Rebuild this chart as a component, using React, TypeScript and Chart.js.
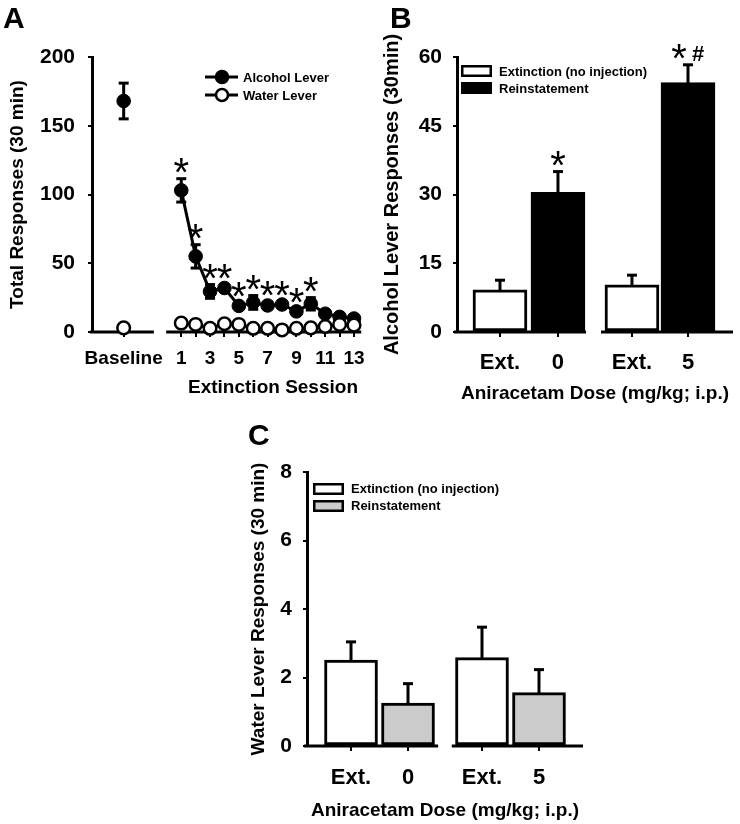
import React, { useEffect, useRef } from "react";
import { Chart, registerables } from "chart.js";
Chart.register(...registerables);

const FONT = "'Liberation Sans', Arial, Helvetica, sans-serif";
Chart.defaults.color = "#000";
Chart.defaults.font.family = FONT;

// ---------------- Panel A data ----------------
const A_SESSIONS = [1, 2, 3, 4, 5, 6, 7, 8, 9, 10, 11, 12, 13];
const A_ALCOHOL_BASELINE = 168;
const A_ALCOHOL_BASELINE_SEM = 13;
const A_ALCOHOL = [103, 55, 29.5, 32, 19, 21.5, 19.3, 20, 15, 20.5, 13.3, 11, 9.8];
const A_ALCOHOL_SEM = [8.5, 8.5, 5, 2, 2, 5, 2.5, 2, 2, 4.5, 2, 1.5, 1.5];
const A_WATER_BASELINE = 3;
const A_WATER = [6.5, 5.5, 2.7, 6, 5.5, 2.7, 2.7, 1.5, 2.7, 3, 4, 5.5, 5];
const A_SIGNIFICANT = [1, 1, 1, 1, 1, 1, 1, 1, 1, 1, 0, 0, 0];
const A_BASELINE_LABEL = "Baseline";

// ---------------- Panel B data ----------------
const DOSE_LABELS = ["0", "5"];
const EXT_LABEL = "Ext.";
const B_EXT = [9.2, 10.3];
const B_EXT_SEM = [2.1, 2.1];
const B_REIN = [30.5, 54.4];
const B_REIN_SEM = [4.5, 3.9];
const B_REIN_MARKS = ["*", "*#"];

// ---------------- Panel C data ----------------
const C_EXT = [2.51, 2.58];
const C_EXT_SEM = [0.53, 0.89];
const C_REIN = [1.25, 1.56];
const C_REIN_SEM = [0.57, 0.67];

// ---------------- layout (positions on the x axis, not data) ----------------
const A_BASELINE_POS = -3;
const B_POS_EXT = [0.741, 3.017];
const B_POS_REIN = [1.741, 3.983];
const C_POS_EXT = [0.772, 3.07];
const C_POS_REIN = [1.772, 4.07];

function drawErr(ctx: CanvasRenderingContext2D, x: number, y1: number, y2: number, capW: number) {
  ctx.beginPath();
  ctx.moveTo(x, y1);
  ctx.lineTo(x, y2);
  ctx.stroke();
  ctx.beginPath();
  ctx.moveTo(x - capW / 2, y2);
  ctx.lineTo(x + capW / 2, y2);
  ctx.stroke();
}

function drawStar(ctx: CanvasRenderingContext2D, x: number, cy: number) {
  ctx.font = `normal 40px ${FONT}`;
  ctx.textAlign = "center";
  ctx.textBaseline = "alphabetic";
  ctx.fillText("*", x, cy + 19);
}

function makeA(): any {
  const alcohol = [{ x: A_BASELINE_POS, y: A_ALCOHOL_BASELINE }, ...A_SESSIONS.map((s, i) => ({ x: s, y: A_ALCOHOL[i] }))];
  const water = [{ x: A_BASELINE_POS, y: A_WATER_BASELINE }, ...A_SESSIONS.map((s, i) => ({ x: s, y: A_WATER[i] }))];
  const hideFirst = { borderColor: (c: any) => (c.p0DataIndex === 0 ? "rgba(0,0,0,0)" : "#000") };
  const plugin = {
    id: "panelA",
    beforeDatasetsDraw(chart: any) {
      const { ctx, scales: { x, y }, chartArea } = chart;
      ctx.save();
      ctx.strokeStyle = "#000";
      ctx.lineWidth = 3;
      const y0 = y.getPixelForValue(0);
      ctx.beginPath();
      ctx.moveTo(chartArea.left - 2, y0);
      ctx.lineTo(x.getPixelForValue(-0.9), y0);
      ctx.moveTo(x.getPixelForValue(-0.05), y0);
      ctx.lineTo(chartArea.right, y0);
      ctx.stroke();
      const pts = [{ p: A_BASELINE_POS, m: A_ALCOHOL_BASELINE, e: A_ALCOHOL_BASELINE_SEM }, ...A_SESSIONS.map((s, i) => ({ p: s, m: A_ALCOHOL[i], e: A_ALCOHOL_SEM[i] }))];
      pts.forEach((d) => {
        const px = x.getPixelForValue(d.p);
        drawErr(ctx, px, y.getPixelForValue(d.m), y.getPixelForValue(d.m + d.e), 10);
        drawErr(ctx, px, y.getPixelForValue(d.m), y.getPixelForValue(d.m - d.e), 10);
      });
      ctx.restore();
    },
    afterDraw(chart: any) {
      const { ctx, scales: { x, y } } = chart;
      ctx.save();
      ctx.fillStyle = "#000";
      A_SESSIONS.forEach((s, i) => {
        if (!A_SIGNIFICANT[i]) return;
        drawStar(ctx, x.getPixelForValue(s), y.getPixelForValue(A_ALCOHOL[i] + A_ALCOHOL_SEM[i]) - 12);
      });
      const rows = [
        { label: "Alcohol Lever", y: 77, fill: "#000" },
        { label: "Water Lever", y: 95, fill: "#fff" },
      ];
      rows.forEach((r) => {
        ctx.strokeStyle = "#000";
        ctx.lineWidth = 3;
        ctx.beginPath();
        ctx.moveTo(205, r.y);
        ctx.lineTo(238, r.y);
        ctx.stroke();
        ctx.beginPath();
        ctx.arc(222, r.y, 6, 0, Math.PI * 2);
        ctx.fillStyle = r.fill;
        ctx.fill();
        ctx.lineWidth = 2.5;
        ctx.stroke();
        ctx.fillStyle = "#000";
        ctx.font = `bold 13px ${FONT}`;
        ctx.textAlign = "left";
        ctx.textBaseline = "middle";
        ctx.fillText(r.label, 243, r.y + 1);
      });
      ctx.font = `bold 19px ${FONT}`;
      ctx.textAlign = "center";
      ctx.textBaseline = "middle";
      ctx.fillText("Extinction Session", 273, 388);
      ctx.font = `bold 30px ${FONT}`;
      ctx.textAlign = "left";
      ctx.textBaseline = "alphabetic";
      ctx.fillText("A", 3, 28);
      ctx.restore();
    },
  };
  return {
    type: "line",
    data: {
      datasets: [
        {
          label: "Water Lever",
          data: water,
          order: 0,
          borderColor: "#000",
          borderWidth: 3,
          pointRadius: 6.3,
          pointBorderWidth: 2.5,
          pointBackgroundColor: "#fff",
          pointBorderColor: "#000",
          segment: hideFirst,
          clip: false,
        },
        {
          label: "Alcohol Lever",
          data: alcohol,
          order: 1,
          borderColor: "#000",
          borderWidth: 3,
          pointRadius: 6.8,
          pointBorderWidth: 1,
          pointBackgroundColor: "#000",
          pointBorderColor: "#000",
          segment: hideFirst,
          clip: false,
        },
      ],
    },
    options: {
      animation: false,
      responsive: false,
      devicePixelRatio: 1,
      layout: { padding: { top: 57, right: 3, bottom: 0, left: 0 } },
      plugins: { legend: { display: false }, tooltip: { enabled: false } },
      scales: {
        x: {
          type: "linear",
          min: -5.2,
          max: 13.5,
          afterBuildTicks: (s: any) => {
            s.ticks = [A_BASELINE_POS, ...A_SESSIONS].map((v) => ({ value: v }));
          },
          afterFit: (s: any) => {
            s.height = 78;
            s.paddingLeft = 0;
            s.paddingRight = 0;
          },
          ticks: {
            autoSkip: false,
            maxRotation: 0,
            padding: 10,
            font: { size: 19, weight: "bold" },
            color: "#000",
            callback: (v: number) => (v === A_BASELINE_POS ? A_BASELINE_LABEL : v % 2 === 1 ? String(v) : ""),
          },
          grid: { display: true, drawOnChartArea: false, drawTicks: true, tickLength: 5, color: "#000", lineWidth: 2 },
          border: { display: false },
        },
        y: {
          min: 0,
          max: 200,
          ticks: { stepSize: 50, padding: 13, font: { size: 21, weight: "bold" }, color: "#000" },
          afterFit: (s: any) => {
            s.width = 92;
            s.paddingTop = 0;
            s.paddingBottom = 0;
          },
          grid: { display: true, drawOnChartArea: false, drawTicks: true, tickLength: 4, color: "#000", lineWidth: 2 },
          border: { display: true, width: 3, color: "#000" },
          title: { display: true, text: "Total Responses (30 min)", font: { size: 19, weight: "bold" }, padding: { top: 6, bottom: 0 }, color: "#000" },
        },
      },
    },
    plugins: [plugin],
  };
}

type BarCfg = {
  ox: number;
  oy: number;
  ext: number[];
  extSem: number[];
  rein: number[];
  reinSem: number[];
  posExt: number[];
  posRein: number[];
  reinColor: string;
  yMax: number;
  yStep: number;
  yTitle: string;
  yTitleSize: number;
  yTitlePad: number;
  yWidth: number;
  padding: any;
  xHeight: number;
  xMax: number;
  xTickPad: number;
  xTitlePad: number;
  breakAt: [number, number];
  barW: number;
  marks?: string[];
  legend: { rx: number; rw: number; r1: [number, number]; r2: [number, number]; tx: number; t1: number; t2: number };
  letter: string;
  letterPos: [number, number];
};

function makeBar(c: BarCfg): any {
  const tickVals = [c.posExt[0], c.posRein[0], c.posExt[1], c.posRein[1]];
  const tickLabels = [EXT_LABEL, DOSE_LABELS[0], EXT_LABEL, DOSE_LABELS[1]];
  const plugin = {
    id: "bars" + c.letter,
    beforeDatasetsDraw(chart: any) {
      const { ctx, scales: { x, y }, chartArea } = chart;
      ctx.save();
      ctx.strokeStyle = "#000";
      ctx.lineWidth = 3;
      const y0 = y.getPixelForValue(0);
      ctx.beginPath();
      ctx.moveTo(chartArea.left - 3, y0);
      ctx.lineTo(x.getPixelForValue(c.breakAt[0]), y0);
      ctx.moveTo(x.getPixelForValue(c.breakAt[1]), y0);
      ctx.lineTo(chartArea.right, y0);
      ctx.stroke();
      ctx.restore();
    },
    afterDatasetsDraw(chart: any) {
      const { ctx, scales: { x, y } } = chart;
      ctx.save();
      ctx.strokeStyle = "#000";
      ctx.fillStyle = "#000";
      ctx.lineWidth = 3;
      const all = [
        ...c.ext.map((v, i) => ({ p: c.posExt[i], m: v, e: c.extSem[i] })),
        ...c.rein.map((v, i) => ({ p: c.posRein[i], m: v, e: c.reinSem[i] })),
      ];
      all.forEach((d) => {
        const px = x.getPixelForValue(d.p);
        drawErr(ctx, px, y.getPixelForValue(d.m) + 1, y.getPixelForValue(d.m + d.e), 10);
      });
      if (c.marks) {
        c.marks.forEach((mk, i) => {
          const px = x.getPixelForValue(c.posRein[i]);
          const cy = y.getPixelForValue(c.rein[i] + c.reinSem[i]) - 12;
          if (mk.includes("#")) {
            drawStar(ctx, px - 9, cy);
            ctx.font = `bold 22px ${FONT}`;
            ctx.textAlign = "center";
            ctx.textBaseline = "alphabetic";
            ctx.fillText("#", px + 10, cy + 8);
          } else {
            drawStar(ctx, px, cy);
          }
        });
      }
      ctx.restore();
    },
    afterDraw(chart: any) {
      const { ctx } = chart;
      ctx.save();
      ctx.translate(-c.ox, -c.oy);
      const L = c.legend;
      const items = [
        { label: "Extinction (no injection)", fill: "#fff", r: L.r1, ty: L.t1 },
        { label: "Reinstatement", fill: c.reinColor, r: L.r2, ty: L.t2 },
      ];
      items.forEach((it) => {
        ctx.fillStyle = it.fill;
        ctx.fillRect(L.rx, it.r[0], L.rw, it.r[1] - it.r[0]);
        ctx.strokeStyle = "#000";
        ctx.lineWidth = 2.5;
        ctx.strokeRect(L.rx + 1.25, it.r[0] + 1.25, L.rw - 2.5, it.r[1] - it.r[0] - 2.5);
        ctx.fillStyle = "#000";
        ctx.font = `bold 13px ${FONT}`;
        ctx.textAlign = "left";
        ctx.textBaseline = "middle";
        ctx.fillText(it.label, L.tx, it.ty);
      });
      ctx.font = `bold 30px ${FONT}`;
      ctx.textAlign = "left";
      ctx.textBaseline = "alphabetic";
      ctx.fillText(c.letter, c.letterPos[0], c.letterPos[1]);
      ctx.restore();
    },
  };
  const barCommon = {
    grouped: false,
    barThickness: c.barW,
    categoryPercentage: 1,
    barPercentage: 1,
    borderColor: "#000",
    borderWidth: 3,
    borderSkipped: false,
  };
  return {
    type: "bar",
    data: {
      datasets: [
        { label: "Extinction (no injection)", data: c.ext.map((v, i) => ({ x: c.posExt[i], y: v })), backgroundColor: "#fff", ...barCommon },
        { label: "Reinstatement", data: c.rein.map((v, i) => ({ x: c.posRein[i], y: v })), backgroundColor: c.reinColor, ...barCommon },
      ],
    },
    options: {
      animation: false,
      responsive: false,
      devicePixelRatio: 1,
      layout: { padding: c.padding },
      plugins: { legend: { display: false }, tooltip: { enabled: false } },
      scales: {
        x: {
          type: "linear",
          min: 0,
          max: c.xMax,
          offset: false,
          afterBuildTicks: (s: any) => {
            s.ticks = tickVals.map((v) => ({ value: v }));
          },
          afterFit: (s: any) => {
            s.height = c.xHeight;
            s.paddingLeft = 0;
            s.paddingRight = 0;
          },
          ticks: {
            autoSkip: false,
            maxRotation: 0,
            padding: c.xTickPad,
            font: { size: 22, weight: "bold" },
            color: "#000",
            callback: (_v: number, i: number) => tickLabels[i],
          },
          grid: { display: true, drawOnChartArea: false, drawTicks: true, tickLength: 5, color: "#000", lineWidth: 2, offset: false },
          border: { display: false },
          title: { display: true, text: "Aniracetam Dose (mg/kg; i.p.)", font: { size: 19, weight: "bold" }, padding: { top: 0, bottom: c.xTitlePad }, color: "#000" },
        },
        y: {
          min: 0,
          max: c.yMax,
          ticks: { stepSize: c.yStep, padding: 11, font: { size: 21, weight: "bold" }, color: "#000" },
          afterFit: (s: any) => {
            s.width = c.yWidth;
            s.paddingTop = 0;
            s.paddingBottom = 0;
          },
          grid: { display: true, drawOnChartArea: false, drawTicks: true, tickLength: 4, color: "#000", lineWidth: 2 },
          border: { display: true, width: 3, color: "#000" },
          title: { display: true, text: c.yTitle, font: { size: c.yTitleSize, weight: "bold" }, padding: { top: c.yTitlePad, bottom: 0 }, color: "#000" },
        },
      },
    },
    plugins: [plugin],
  };
}

function makeB(): any {
  return makeBar({
    ox: 370,
    oy: 0,
    ext: B_EXT,
    extSem: B_EXT_SEM,
    rein: B_REIN,
    reinSem: B_REIN_SEM,
    posExt: B_POS_EXT,
    posRein: B_POS_REIN,
    reinColor: "#000",
    yMax: 60,
    yStep: 15,
    yTitle: "Alcohol Lever Responses (30min)",
    yTitleSize: 20,
    yTitlePad: 10,
    yWidth: 87,
    padding: { top: 57, right: 7, bottom: 0, left: 0 },
    xHeight: 78,
    xMax: 4.759,
    xTickPad: 13,
    xTitlePad: 5,
    breakAt: [2.224, 2.483],
    barW: 54,
    marks: B_REIN_MARKS,
    legend: { rx: 461, rw: 31, r1: [65, 77], r2: [82, 94], tx: 499, t1: 72, t2: 89 },
    letter: "B",
    letterPos: [390, 28],
  });
}

function makeC(): any {
  return makeBar({
    ox: 240,
    oy: 420,
    ext: C_EXT,
    extSem: C_EXT_SEM,
    rein: C_REIN,
    reinSem: C_REIN_SEM,
    posExt: C_POS_EXT,
    posRein: C_POS_REIN,
    reinColor: "#cbcbcb",
    yMax: 8,
    yStep: 2,
    yTitle: "Water Lever Responses (30 min)",
    yTitleSize: 19,
    yTitlePad: 7,
    yWidth: 67,
    padding: { top: 52, right: 17, bottom: 0, left: 0 },
    xHeight: 78,
    xMax: 4.842,
    xTickPad: 14,
    xTitlePad: 2,
    breakAt: [2.3, 2.54],
    barW: 53,
    legend: { rx: 313, rw: 31, r1: [483, 495], r2: [500, 512], tx: 351, t1: 489, t2: 506 },
    letter: "C",
    letterPos: [248, 445],
  });
}

function ChartCanvas(props: { left: number; top: number; width: number; height: number; make: () => any }) {
  const ref = useRef<HTMLCanvasElement | null>(null);
  useEffect(() => {
    if (!ref.current) return;
    const chart = new Chart(ref.current, props.make());
    return () => chart.destroy();
  }, []);
  return (
    <canvas
      ref={ref}
      width={props.width}
      height={props.height}
      style={{ position: "absolute", left: props.left, top: props.top, width: props.width, height: props.height }}
    />
  );
}

export default function App() {
  return (
    <div style={{ position: "absolute", left: 0, top: 0, width: 740, height: 824, background: "#fff", overflow: "hidden" }}>
      <ChartCanvas left={0} top={0} width={370} height={410} make={makeA} />
      <ChartCanvas left={370} top={0} width={370} height={410} make={makeB} />
      <ChartCanvas left={240} top={420} width={360} height={404} make={makeC} />
    </div>
  );
}
